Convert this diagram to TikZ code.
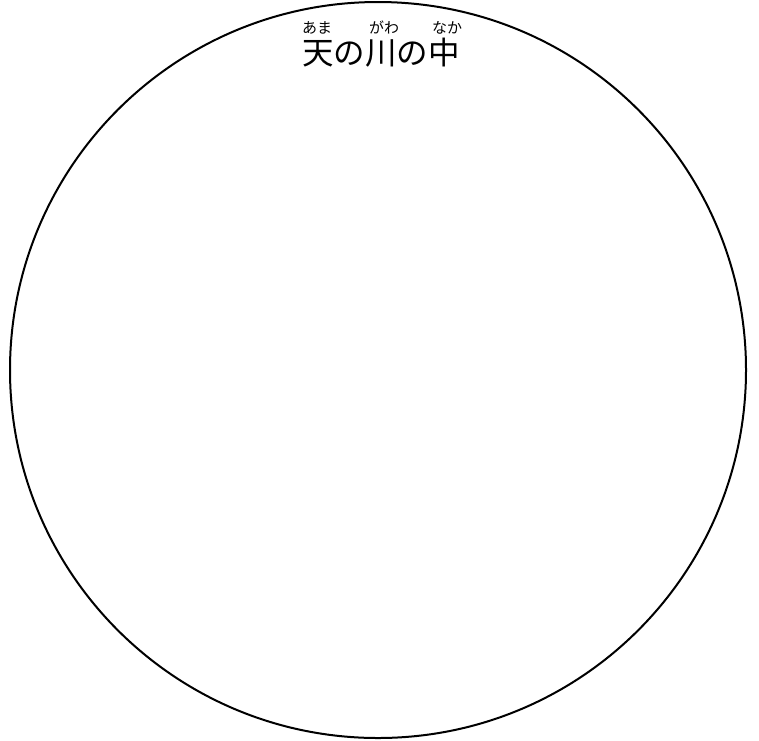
\documentclass[tikz,border=0pt]{standalone}
\usepackage{fontspec}
\newfontfamily\cjk{Noto Sans CJK JP}
\tikzset{
  main/.style={font=\cjk\fontsize{31.5}{31.5}\selectfont, inner sep=0pt, anchor=base},
  ruby/.style={font=\cjk\fontsize{15}{15}\selectfont, inner sep=0pt, anchor=base},
  rim/.style={draw=black, line width=2pt}
}
\begin{document}
\begin{tikzpicture}[x=1pt,y=1pt]
\useasboundingbox (0,0) rectangle (759,-740);
\draw[rim] (378,-370) circle (368);
\node[main] (title) at (381,-64) {天の川の中};
\node[ruby] (r1) at (317,-33) {あま};
\node[ruby] (r2) at (384,-33) {がわ};
\node[ruby] (r3) at (447,-33) {なか};
\end{tikzpicture}
\end{document}
